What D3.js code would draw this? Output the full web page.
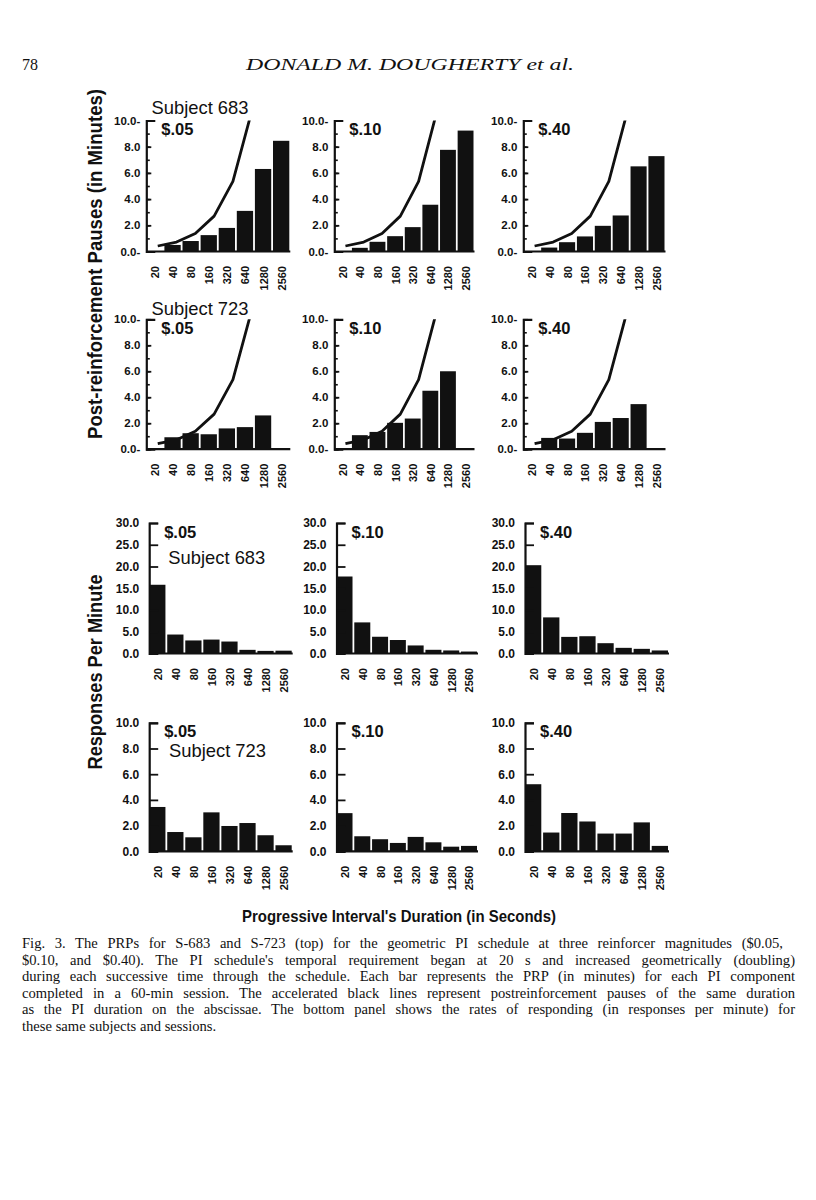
<!DOCTYPE html>
<html><head><meta charset="utf-8">
<script src="https://cdn.jsdelivr.net/npm/d3@7"></script>
<style>body{margin:0;background:#fff}svg{display:block}</style>
</head><body>
<script>
// ---------- DATA ----------
const categories = ["20","40","80","160","320","640","1280","2560"];
const magnitudes = ["$.05","$.10","$.40"];
const subjects = ["Subject 683","Subject 723"];
// PI duration reference line (minutes) for the first six categories
const piLine = [0.42, 0.72, 1.38, 2.7, 5.35, 10.7];
// Post-reinforcement pauses (minutes)
const prp683_05 = [0, 0.5, 0.8, 1.25, 1.8, 3.1, 6.3, 8.45];
const prp683_10 = [0, 0.28, 0.74, 1.17, 1.86, 3.57, 7.76, 9.23];
const prp683_40 = [0, 0.3, 0.71, 1.15, 1.96, 2.75, 6.5, 7.28];
const prp723_05 = [0, 0.92, 1.23, 1.15, 1.6, 1.7, 2.6, 0];
const prp723_10 = [0, 1.08, 1.33, 2.03, 2.36, 4.5, 6.0, 0];
const prp723_40 = [0, 0.87, 0.82, 1.26, 2.1, 2.4, 3.47, 0];
// Responses per minute
const rate683_05 = [15.8, 4.36, 3.0, 3.2, 2.75, 0.84, 0.6, 0.65];
const rate683_10 = [17.7, 7.15, 3.85, 3.1, 1.85, 0.85, 0.7, 0.45];
const rate683_40 = [20.3, 8.3, 3.82, 3.97, 2.37, 1.3, 1.07, 0.7];
const rate723_05 = [3.45, 1.5, 1.09, 3.03, 1.97, 2.2, 1.25, 0.47];
const rate723_10 = [2.97, 1.17, 0.94, 0.65, 1.12, 0.7, 0.36, 0.42];
const rate723_40 = [5.22, 1.46, 2.98, 2.32, 1.38, 1.38, 2.25, 0.42];
// Tick values
const prpMajorTicks = [0, 2, 4, 6, 8, 10];
const prpMinorTicks = [0, 1, 2, 3, 4, 5, 6, 7, 8, 9, 10];
const rate683Ticks = [0, 5, 10, 15, 20, 25, 30];
const rate723Ticks = [0, 2, 4, 6, 8, 10];
// Texts
const headerPage = "78";
const headerTitle = "DONALD M. DOUGHERTY et al.";
const yTitleTop = "Post-reinforcement Pauses (in Minutes)";
const yTitleBottom = "Responses Per Minute";
const xTitle = "Progressive Interval's Duration (in Seconds)";
const captionLines = [
  "Fig. 3.   The PRPs for S-683 and S-723 (top) for the geometric PI schedule at three reinforcer magnitudes ($0.05,",
  "$0.10, and $0.40). The PI schedule's temporal requirement began at 20 s and increased geometrically (doubling)",
  "during each successive time through the schedule. Each bar represents the PRP (in minutes) for each PI component",
  "completed in a 60-min session. The accelerated black lines represent postreinforcement pauses of the same duration",
  "as the PI duration on the abscissae. The bottom panel shows the rates of responding (in responses per minute) for",
  "these same subjects and sessions."
];

// ---------- LAYOUT ----------
const W = 816, H = 1200;
const ink = "#111";
const sans = "'Liberation Sans', Arial, Helvetica, sans-serif";
const serif = "'Liberation Serif', 'Times New Roman', serif";

const svg = d3.select("body").append("svg").attr("width", W).attr("height", H)
  .style("background", "#fff");
const defs = svg.append("defs");

const colsTop = [[146.3, 289.3], [334.3, 473.5], [523.3, 664.5]];
const rowsTop = [{yTop: 120.5, y0: 251.5}, {yTop: 319.3, y0: 449.2}];
const colsBot = [[149.2, 291.7], [336.5, 477], [525, 668]];
const rowsBot = [{yTop: 523, y0: 653.5}, {yTop: 722.8, y0: 851.3}];

let clipId = 0;
function panel(o) {
  const g = svg.append("g");
  const x = d3.scaleBand().domain(categories).range([o.x0, o.x1]).paddingInner(0.1).paddingOuter(0);
  const y = d3.scaleLinear().domain([0, o.max]).range([o.y0, o.yTop]);
  const data = o.values.map((v, i) => ({c: categories[i], v})).filter(d => d.v > 0);

  if (o.line) {
    const w = o.x1 - o.x0;
    const xl = d3.scalePoint().domain(categories).range([o.x0 + 0.08 * w, o.x1]);
    const id = "clip" + (clipId++);
    defs.append("clipPath").attr("id", id).append("rect")
      .attr("x", o.x0).attr("y", o.yTop).attr("width", w).attr("height", o.y0 - o.yTop);
    g.append("path").attr("clip-path", `url(#${id})`)
      .datum(o.line)
      .attr("fill", "none").attr("stroke", ink).attr("stroke-width", 2.8)
      .attr("stroke-linejoin", "round")
      .attr("d", d3.line().x((d, i) => xl(categories[i])).y(d => y(d)));
  }

  g.selectAll("rect.bar").data(data).join("rect").attr("class", "bar")
    .attr("x", d => x(d.c)).attr("width", x.bandwidth())
    .attr("y", d => y(d.v)).attr("height", d => o.y0 - y(d.v))
    .attr("fill", ink);

  if (o.minor) {
    const am = g.append("g").attr("transform", `translate(${o.x0},0)`)
      .call(d3.axisLeft(y).tickValues(o.minor).tickSizeInner(-3.5).tickSizeOuter(0).tickFormat(""));
    am.select(".domain").remove();
    am.selectAll("line").attr("stroke", ink).attr("stroke-width", 1.6);
  }
  const ay = g.append("g").attr("transform", `translate(${o.x0},0)`)
    .call(d3.axisLeft(y).tickValues(o.ticks).tickSizeInner(-o.tickLen).tickSizeOuter(-9)
      .tickPadding(o.pad).tickFormat(o.fmt));
  ay.select(".domain").attr("stroke", ink).attr("stroke-width", 2.2);
  ay.selectAll("line").attr("stroke", ink).attr("stroke-width", 1.8);
  ay.selectAll("text").attr("fill", ink).style("font-family", sans)
    .style("font-weight", "bold").style("font-size", o.fs + "px");

  g.append("line").attr("x1", o.x0).attr("x2", o.x1 + 1).attr("y1", o.y0).attr("y2", o.y0)
    .attr("stroke", ink).attr("stroke-width", 2.2);

  const ax = g.append("g").attr("transform", `translate(0,${o.y0})`)
    .call(d3.axisBottom(x).tickSize(0).tickPadding(0));
  ax.select(".domain").remove();
  ax.selectAll("text")
    .attr("transform", "rotate(-90)").attr("text-anchor", "end")
    .attr("x", -14.5).attr("y", 0.5).attr("dy", "0.36em")
    .attr("fill", ink).style("font-family", sans).style("font-weight", "bold").style("font-size", "11px");

  g.append("text").attr("x", o.x0 + 15).attr("y", o.yTop + 14.5)
    .attr("fill", ink).style("font-family", sans).style("font-weight", "bold").style("font-size", "16.5px")
    .text(o.label);
  return g;
}

const fmtTop = v => (v === 0 || v === 10) ? d3.format(".1f")(v) + "-" : d3.format(".1f")(v);
const fmtBot = d3.format(".1f");

const prpSets = [[prp683_05, prp683_10, prp683_40], [prp723_05, prp723_10, prp723_40]];
const rateSets = [[rate683_05, rate683_10, rate683_40], [rate723_05, rate723_10, rate723_40]];
const rateMax = [30, 10];
const rateTicks = [rate683Ticks, rate723Ticks];

prpSets.forEach((row, r) => row.forEach((vals, c) => {
  panel({x0: colsTop[c][0], x1: colsTop[c][1], yTop: rowsTop[r].yTop, y0: rowsTop[r].y0,
    max: 10, values: vals, line: piLine, ticks: prpMajorTicks, minor: prpMinorTicks,
    tickLen: 5, pad: 6, fmt: fmtTop, fs: 11.5, label: magnitudes[c]});
}));
rateSets.forEach((row, r) => row.forEach((vals, c) => {
  panel({x0: colsBot[c][0], x1: colsBot[c][1], yTop: rowsBot[r].yTop, y0: rowsBot[r].y0,
    max: rateMax[r], values: vals, line: null, ticks: rateTicks[r], minor: null,
    tickLen: 9, pad: 10, fmt: fmtBot, fs: 12, label: magnitudes[c]});
}));

const subj = [
  {t: subjects[0], x: 151.5, y: 114},
  {t: subjects[1], x: 151.5, y: 314.5},
  {t: subjects[0], x: 168.3, y: 564.3},
  {t: subjects[1], x: 169, y: 756.7}
];
svg.selectAll("text.subj").data(subj).join("text").attr("class", "subj")
  .attr("x", d => d.x).attr("y", d => d.y).attr("fill", ink)
  .style("font-family", sans).style("font-size", "19px").attr("textLength", 97)
  .attr("lengthAdjust", "spacingAndGlyphs").text(d => d.t);

svg.append("text").attr("transform", "translate(102,264) rotate(-90)").attr("text-anchor", "middle")
  .attr("fill", ink).style("font-family", sans).style("font-weight", "bold").style("font-size", "20px")
  .attr("textLength", 350).attr("lengthAdjust", "spacingAndGlyphs").text(yTitleTop);
svg.append("text").attr("transform", "translate(102,672) rotate(-90)").attr("text-anchor", "middle")
  .attr("fill", ink).style("font-family", sans).style("font-weight", "bold").style("font-size", "20px")
  .attr("textLength", 195).attr("lengthAdjust", "spacingAndGlyphs").text(yTitleBottom);
svg.append("text").attr("x", 399).attr("y", 922).attr("text-anchor", "middle")
  .attr("fill", ink).style("font-family", sans).style("font-weight", "bold").style("font-size", "17px")
  .attr("textLength", 314).attr("lengthAdjust", "spacingAndGlyphs").text(xTitle);

svg.append("text").attr("x", 22).attr("y", 70).attr("fill", ink)
  .style("font-family", serif).style("font-size", "16px").text(headerPage);
svg.append("text").attr("x", 410).attr("y", 70).attr("text-anchor", "middle").attr("fill", ink)
  .style("font-family", serif).style("font-style", "italic").style("font-size", "16px")
  .attr("textLength", 328).attr("lengthAdjust", "spacingAndGlyphs").text(headerTitle);

// caption, justified through word spacing
const capW = 773;
svg.selectAll("text.cap").data(captionLines).join("text").attr("class", "cap")
  .attr("x", 22).attr("y", (d, i) => 948 + i * 16.6).attr("fill", ink)
  .style("font-family", serif).style("font-size", "14.6px")
  .text(d => d)
  .each(function(d, i) {
    if (i === captionLines.length - 1) return;
    const nat = this.getComputedTextLength();
    const spaces = (d.match(/ /g) || []).length;
    if (spaces > 0) d3.select(this).style("word-spacing", ((capW - nat) / spaces) + "px");
  });
</script>
</body></html>
